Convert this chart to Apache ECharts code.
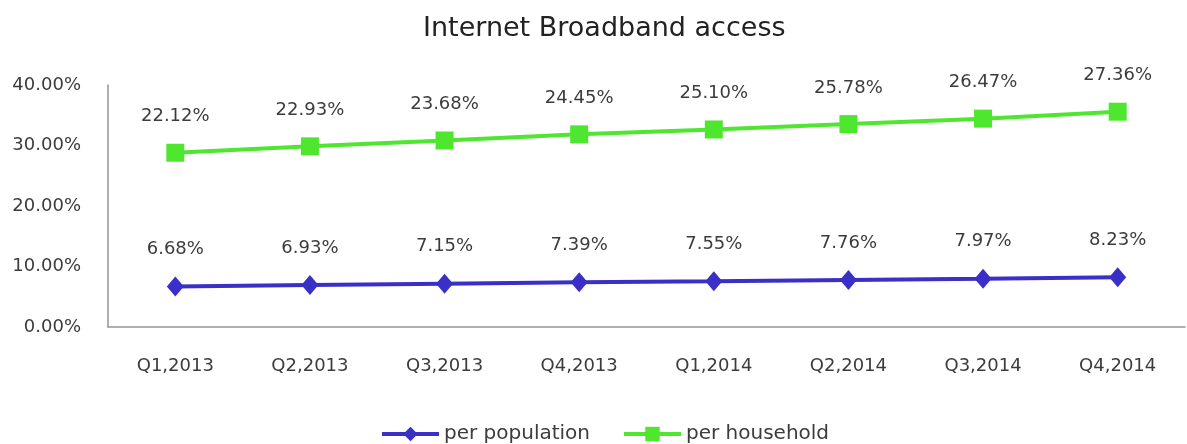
<!DOCTYPE html>
<html>
<head>
<meta charset="utf-8">
<script src="https://cdn.jsdelivr.net/npm/echarts@6/dist/echarts.min.js"></script>
<style>
  html, body { margin: 0; padding: 0; background: #fff; }
  #chart { width: 1187px; height: 444px; }
</style>
</head>
<body>
<div id="chart"></div>
<script>
const quarters = ["Q1,2013", "Q2,2013", "Q3,2013", "Q4,2013", "Q1,2014", "Q2,2014", "Q3,2014", "Q4,2014"];
const perPopulation = [6.68, 6.93, 7.15, 7.39, 7.55, 7.76, 7.97, 8.23];
const perHousehold = [22.12, 22.93, 23.68, 24.45, 25.1, 25.78, 26.47, 27.36];
const yTicks = [0, 10, 20, 30, 40];

const textColor = "#3c3c3c";
const fontName = "DejaVu Sans";

let chart = echarts.init(document.getElementById("chart"));

let option = {
  animation: false,
  title: {
    text: "Internet Broadband access",
    left: 418,
    top: 10,
    textStyle: { fontFamily: fontName, fontSize: 27, fontWeight: "normal", color: "#222" },
  },
  legend: {
    left: 375,
    top: 419,
    itemWidth: 57,
    itemHeight: 18,
    itemGap: 32,
    lineStyle: { width: 4 },
    textStyle: { fontFamily: fontName, fontSize: 20, color: textColor },
    data: ["per population", "per household"],
  },
  grid: { left: 108, right: 2, top: 85, bottom: 117 },
  xAxis: {
    type: "category",
    data: quarters,
    axisTick: { show: false },
    axisLine: { lineStyle: { color: "#959595", width: 1.5 } },
    axisLabel: { margin: 30, fontFamily: fontName, fontSize: 18, color: textColor },
  },
  yAxis: {
    type: "value",
    min: yTicks[0],
    max: yTicks[yTicks.length - 1],
    interval: 10,
    splitLine: { show: false },
    axisTick: { show: false },
    axisLine: { show: true, lineStyle: { color: "#959595", width: 1.5 } },
    axisLabel: {
      margin: 27,
      fontFamily: fontName,
      fontSize: 18,
      color: textColor,
      formatter: (v) => v.toFixed(2) + "%",
    },
  },
  series: [
    {
      name: "per population",
      type: "line",
      stack: "total",
      data: perPopulation,
      symbol: "diamond",
      symbolSize: [17, 20],
      lineStyle: { color: "#3a2fc6", width: 4 },
      itemStyle: { color: "#3a2fc6" },
      label: {
        show: true,
        position: "top",
        distance: 18,
        fontFamily: fontName,
        fontSize: 18,
        color: textColor,
        formatter: (p) => p.value.toFixed(2) + "%",
      },
    },
    {
      name: "per household",
      type: "line",
      stack: "total",
      data: perHousehold,
      symbol: "rect",
      symbolSize: 18,
      lineStyle: { color: "#4fe630", width: 4 },
      itemStyle: { color: "#4fe630" },
      label: {
        show: true,
        position: "top",
        distance: 18,
        fontFamily: fontName,
        fontSize: 18,
        color: textColor,
        formatter: (p) => p.value.toFixed(2) + "%",
      },
    },
  ],
};

chart.setOption(option);
</script>
</body>
</html>
